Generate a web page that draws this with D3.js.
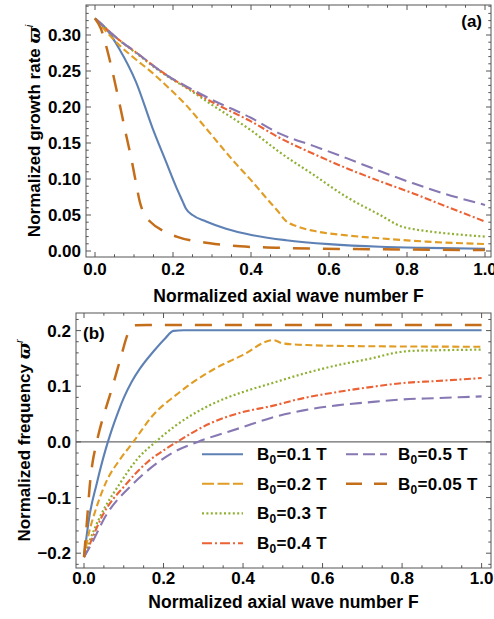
<!DOCTYPE html>
<html>
<head>
<meta charset="utf-8">
<script src="https://cdn.jsdelivr.net/npm/d3@7"></script>
<style>
  body { margin: 0; background: #fff; }
  svg { display: block; }
  text { font-family: "Liberation Sans", Arial, Helvetica, sans-serif; font-weight: bold; fill: #000; }
</style>
</head>
<body>
<svg id="chart" width="494" height="619"></svg>
<script>
// Magnetic field strengths (tesla), one curve each
const fields = [0.1, 0.2, 0.3, 0.4, 0.5, 0.05];

// Normalized growth rate vs normalized axial wave number F
const growthB01 = [[0,0.323],[0.028,0.309],[0.062,0.281],[0.105,0.235],[0.148,0.170],[0.182,0.124],[0.208,0.089],[0.225,0.0685],[0.233,0.059],[0.25,0.050],[0.285,0.041],[0.336,0.031],[0.404,0.022],[0.49,0.015],[0.6,0.0095],[0.731,0.0058],[0.85,0.0043],[1.0,0.0032]];
const growthB02 = [[0,0.323],[0.03,0.304],[0.062,0.286],[0.105,0.266],[0.148,0.247],[0.19,0.226],[0.233,0.203],[0.276,0.176],[0.319,0.148],[0.36,0.122],[0.404,0.096],[0.44,0.073],[0.474,0.052],[0.487,0.043],[0.52,0.034],[0.56,0.028],[0.64,0.022],[0.731,0.0176],[0.85,0.013],[1.0,0.0097]];
const growthB03 = [[0,0.323],[0.028,0.309],[0.062,0.293],[0.105,0.275],[0.15,0.256],[0.19,0.241],[0.233,0.227],[0.3,0.203],[0.404,0.166],[0.474,0.137],[0.56,0.106],[0.645,0.075],[0.731,0.050],[0.786,0.034],[0.82,0.030],[0.86,0.027],[0.93,0.023],[1.0,0.020]];
const growthB04 = [[0,0.323],[0.028,0.309],[0.062,0.293],[0.105,0.276],[0.148,0.258],[0.19,0.242],[0.233,0.228],[0.3,0.207],[0.4,0.180],[0.474,0.157],[0.56,0.135],[0.645,0.115],[0.73,0.097],[0.816,0.080],[0.9,0.062],[1.0,0.041]];
const growthB05 = [[0,0.323],[0.028,0.309],[0.062,0.293],[0.105,0.276],[0.148,0.258],[0.19,0.242],[0.233,0.229],[0.3,0.210],[0.4,0.185],[0.474,0.163],[0.56,0.146],[0.645,0.129],[0.73,0.111],[0.816,0.094],[0.9,0.079],[1.0,0.064]];
const growthB005 = [[0,0.323],[0.015,0.309],[0.028,0.286],[0.041,0.258],[0.062,0.207],[0.079,0.163],[0.094,0.126],[0.105,0.095],[0.115,0.068],[0.122,0.056],[0.13,0.048],[0.141,0.041],[0.182,0.026],[0.209,0.020],[0.295,0.0107],[0.372,0.0065],[0.464,0.0046],[0.7,0.0025],[1.0,0.0014]];

// Normalized real frequency vs normalized axial wave number F
const freqB01 = [[0,-0.207],[0.0133,-0.135],[0.032,-0.075],[0.053,-0.017],[0.07,0.022],[0.086,0.054],[0.1,0.079],[0.12,0.108],[0.141,0.132],[0.174,0.162],[0.204,0.186],[0.225,0.1995],[0.25,0.2005],[0.5,0.2005],[1.0,0.2005]];
const freqB02 = [[0,-0.207],[0.012,-0.165],[0.028,-0.125],[0.057,-0.070],[0.09,-0.032],[0.124,0],[0.173,0.0475],[0.231,0.084],[0.315,0.126],[0.399,0.156],[0.476,0.183],[0.50,0.177],[0.56,0.174],[0.7,0.172],[1.0,0.171]];
const freqB03 = [[0,-0.207],[0.013,-0.180],[0.040,-0.135],[0.09,-0.075],[0.135,-0.030],[0.18,0],[0.231,0.0295],[0.315,0.0655],[0.399,0.0895],[0.468,0.1045],[0.552,0.1225],[0.636,0.1376],[0.72,0.1496],[0.795,0.1616],[0.82,0.1634],[0.9,0.1648],[1.0,0.1658]];
const freqB04 = [[0,-0.207],[0.015,-0.183],[0.0445,-0.135],[0.107,-0.075],[0.16,-0.036],[0.205,-0.013],[0.234,0],[0.315,0.0325],[0.399,0.0535],[0.468,0.0638],[0.552,0.0787],[0.636,0.0895],[0.72,0.0985],[0.803,0.1058],[0.887,0.1094],[1.0,0.1148]];
const freqB05 = [[0,-0.207],[0.019,-0.183],[0.053,-0.135],[0.124,-0.075],[0.18,-0.040],[0.229,-0.017],[0.286,0],[0.399,0.0265],[0.468,0.0427],[0.552,0.0566],[0.636,0.0656],[0.72,0.0715],[0.803,0.0764],[0.887,0.0787],[1.0,0.0818]];
const freqB005 = [[0,-0.207],[0.0083,-0.135],[0.015,-0.075],[0.022,-0.035],[0.028,-0.013],[0.032,0],[0.074,0.105],[0.095,0.158],[0.108,0.190],[0.118,0.205],[0.13,0.2095],[0.16,0.2100],[0.5,0.2100],[1.0,0.2100]];

// Tick values
const xTicks = [0, 0.2, 0.4, 0.6, 0.8, 1.0];
const growthTicks = [0, 0.05, 0.10, 0.15, 0.20, 0.25, 0.30];
const freqTicks = [-0.2, -0.1, 0, 0.1, 0.2];

const growthSeries = [growthB01, growthB02, growthB03, growthB04, growthB05, growthB005];
const freqSeries = [freqB01, freqB02, freqB03, freqB04, freqB05, freqB005];

// Line styles for each field strength
const styles = [
  { color: "#5E81B5", dash: null,            legendDash: null,          width: 2.1 },
  { color: "#E19C24", dash: "7,3.5",         legendDash: "12,3.5",      width: 2.1 },
  { color: "#8FB032", dash: "2,2.4",         legendDash: "2,2.4",       width: 2.2 },
  { color: "#EB6235", dash: "7,2.5,2,2.5",   legendDash: "10,3,2,3",    width: 2.1 },
  { color: "#8778B3", dash: "12,6",          legendDash: "12,5",        width: 2.1 },
  { color: "#C56E1A", dash: "17,13",         legendDash: "16,12",       width: 2.5 }
];

const svg = d3.select("#chart");
const frameColor = "#555";

function drawPanel(cfg) {
  const g = svg.append("g");
  const { frame, x, y } = cfg;

  const line = d3.line().x(d => x(d[0])).y(d => y(d[1])).curve(d3.curveMonotoneX);
  if (cfg.zeroLine) {
    g.append("line")
      .attr("x1", frame.left).attr("x2", frame.right)
      .attr("y1", y(0)).attr("y2", y(0))
      .attr("stroke", "#6a6a6a").attr("stroke-width", 1.2);
  }
  const clipId = "clip" + cfg.name;
  svg.append("clipPath").attr("id", clipId).append("rect")
    .attr("x", frame.left).attr("y", frame.top)
    .attr("width", frame.right - frame.left).attr("height", frame.bottom - frame.top);
  const curves = g.append("g").attr("clip-path", `url(#${clipId})`);
  cfg.series.forEach((s, i) => {
    curves.append("path")
      .attr("d", line(s))
      .attr("fill", "none")
      .attr("stroke", styles[i].color)
      .attr("stroke-width", styles[i].width)
      .attr("stroke-dasharray", styles[i].dash);
  });

  // frame
  g.append("rect")
    .attr("x", frame.left).attr("y", frame.top)
    .attr("width", frame.right - frame.left).attr("height", frame.bottom - frame.top)
    .attr("fill", "none").attr("stroke", frameColor).attr("stroke-width", 1);

  const major = 5, minor = 2.7;
  const tk = g.append("g").attr("stroke", frameColor).attr("stroke-width", 1);
  // x ticks, bottom and top, pointing inward
  d3.range(0, 1.0001, 0.05).forEach(v => {
    const isMajor = xTicks.some(t => Math.abs(t - v) < 1e-6);
    const len = isMajor ? major : minor;
    const px = x(v);
    tk.append("line").attr("x1", px).attr("x2", px).attr("y1", frame.bottom).attr("y2", frame.bottom - len);
    tk.append("line").attr("x1", px).attr("x2", px).attr("y1", frame.top).attr("y2", frame.top + len);
  });
  // y ticks, left and right, pointing inward
  const [ylo, yhi] = [y.invert(frame.bottom), y.invert(frame.top)];
  const yMinor = d3.range(Math.ceil(ylo / cfg.minorStep - 1e-6) * cfg.minorStep, yhi + 1e-9, cfg.minorStep);
  yMinor.forEach(v => {
    const isMajor = cfg.yTicks.some(t => Math.abs(t - v) < 1e-6);
    const len = isMajor ? major : minor;
    const py = y(v);
    tk.append("line").attr("y1", py).attr("y2", py).attr("x1", frame.left).attr("x2", frame.left + len);
    tk.append("line").attr("y1", py).attr("y2", py).attr("x1", frame.right).attr("x2", frame.right - len);
  });

  // tick labels
  const fmtX = d3.format(".1f");
  g.selectAll(null).data(xTicks).enter().append("text")
    .attr("x", d => x(d)).attr("y", cfg.xLabelBaseline)
    .attr("text-anchor", "middle").attr("font-size", 17)
    .text(d => fmtX(d));
  g.selectAll(null).data(cfg.yTicks).enter().append("text")
    .attr("x", frame.left - 5).attr("y", d => y(d)).attr("dy", "0.36em")
    .attr("text-anchor", "end").attr("font-size", 17)
    .text(d => cfg.yFormat(d));

  // axis titles
  g.append("text")
    .attr("x", (frame.left + frame.right) / 2).attr("y", cfg.xTitleBaseline)
    .attr("text-anchor", "middle").attr("font-size", 17.5)
    .text("Normalized axial wave number F");
  const yt = g.append("text")
    .attr("transform", `translate(${cfg.yTitleX},${(frame.top + frame.bottom) / 2}) rotate(-90)`)
    .attr("text-anchor", "middle").attr("font-size", 17);
  yt.append("tspan").text(cfg.yTitle + " ");
  yt.append("tspan").attr("font-family", "DejaVu Serif").attr("font-style", "italic").text("ϖ");
  yt.append("tspan").attr("font-size", 11).attr("dy", -7).attr("font-style", "italic").attr("font-weight", "normal").text(cfg.yTitleSup);

  // panel tag
  g.append("text").attr("x", cfg.tag.x).attr("y", cfg.tag.y)
    .attr("text-anchor", cfg.tag.anchor).attr("font-size", 17).text(cfg.tag.text);
  return g;
}

// (a) growth rate
const topFrame = { left: 86, right: 491, top: 5, bottom: 257 };
const xTop = d3.scaleLinear().domain([0, 1]).range([95, 485]);
const yTop = d3.scaleLinear().domain([0, 0.3]).range([251, 35]);
drawPanel({
  name: "a", frame: topFrame, x: xTop, y: yTop, series: growthSeries,
  yTicks: growthTicks, minorStep: 0.01, yFormat: d3.format(".2f"),
  xLabelBaseline: 275, xTitleBaseline: 302, yTitleX: 40,
  yTitle: "Normalized growth rate", yTitleSup: "i",
  tag: { text: "(a)", x: 482, y: 27, anchor: "end" }
});

// (b) real frequency
const botFrame = { left: 76, right: 491, top: 313, bottom: 568 };
const xBot = d3.scaleLinear().domain([0, 1]).range([84, 481.6]);
const yBot = d3.scaleLinear().domain([-0.2, 0.2]).range([553.2, 330.6]);
const gb = drawPanel({
  name: "b", frame: botFrame, x: xBot, y: yBot, series: freqSeries,
  yTicks: freqTicks, minorStep: 0.02, yFormat: d3.format(".1f"),
  xLabelBaseline: 584, xTitleBaseline: 608, yTitleX: 30, zeroLine: true,
  yTitle: "Normalized frequency", yTitleSup: "r",
  tag: { text: "(b)", x: 83, y: 339, anchor: "start" }
});

// legend, two columns inside panel (b)
const legendCols = [{ lineX: 202, textX: 257 }, { lineX: 346, textX: 398 }];
const legendRows = [454.3, 483.7, 513.3, 543.3];
const legendPlace = [[0,0],[0,1],[0,2],[0,3],[1,0],[1,1]];
const legend = gb.append("g");
fields.forEach((b, i) => {
  const [c, r] = legendPlace[i];
  const col = legendCols[c], yy = legendRows[r];
  legend.append("line")
    .attr("x1", col.lineX).attr("x2", col.lineX + 41).attr("y1", yy).attr("y2", yy)
    .attr("stroke", styles[i].color).attr("stroke-width", styles[i].width)
    .attr("stroke-dasharray", styles[i].legendDash);
  const t = legend.append("text").attr("x", col.textX).attr("y", yy + 6)
    .attr("font-size", 17).attr("letter-spacing", 0.3);
  t.append("tspan").text("B");
  t.append("tspan").attr("font-size", 12).attr("dy", 4).text("0");
  t.append("tspan").attr("dy", -4).text("=" + b + " T");
});
</script>
</body>
</html>
